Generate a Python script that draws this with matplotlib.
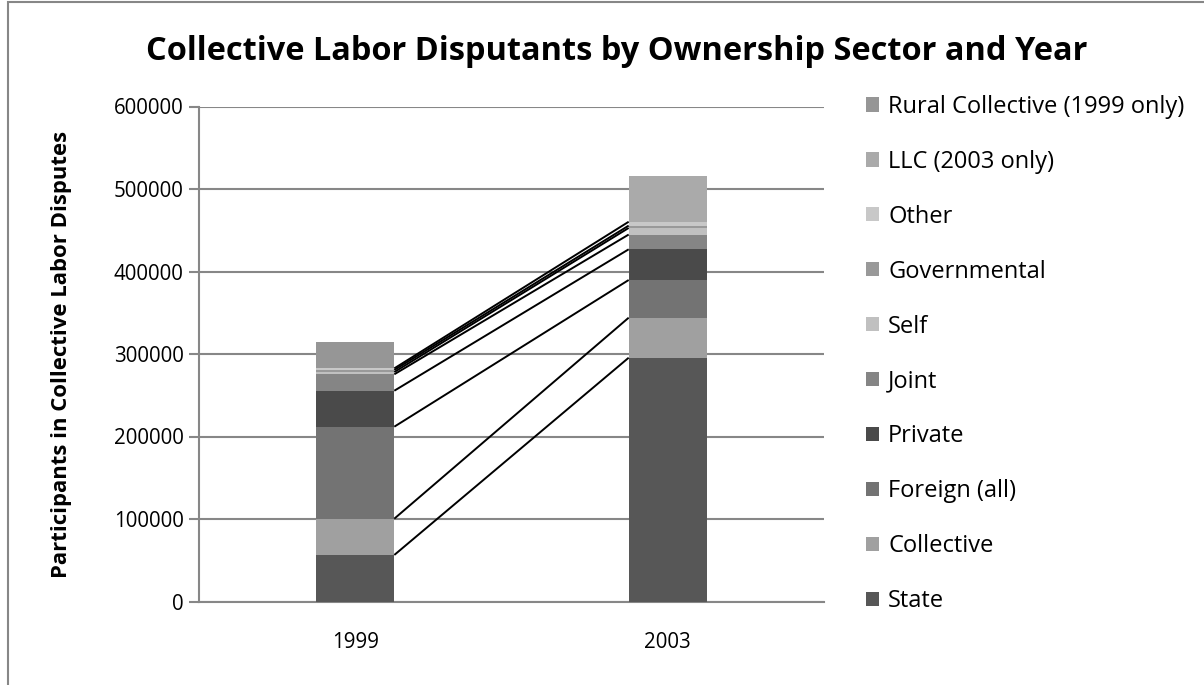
import matplotlib
matplotlib.use("Agg")
import matplotlib.pyplot as plt
import numpy as np
from matplotlib.patches import Rectangle, Patch

plt.rcParams['font.family'] = ['Open Sans', 'DejaVu Sans']

years = ['1999', '2003']
sectors = ['State', 'Collective', 'Foreign (all)', 'Private', 'Joint', 'Self',
           'Governmental', 'Other', 'LLC (2003 only)', 'Rural Collective (1999 only)']
vals_1999 = [56400, 44000, 111500, 43600, 19900, 2700, 2500, 2000, 0, 31600]
vals_2003 = [295500, 48500, 45700, 37200, 17900, 8000, 2800, 4700, 55400, 0]
colors = ['#575757', '#a0a0a0', '#737373', '#4a4a4a', '#858585', '#c0c0c0',
          '#999999', '#c8c8c8', '#aaaaaa', '#969696']
yticks = [0, 100000, 200000, 300000, 400000, 500000, 600000]

grid_col = '#878787'
bar_w = 0.25

fig = plt.figure(figsize=(12.04, 6.85), dpi=100)
ax = fig.add_axes([199 / 1204, 83.5 / 685, 625 / 1204, 495 / 685])

x = np.arange(len(years))
data = np.array([vals_1999, vals_2003], dtype=float)
bottoms = np.zeros(len(years))
tops = []
for i, name in enumerate(sectors):
    ax.bar(x, data[:, i], bar_w, bottom=bottoms, color=colors[i], label=name,
           linewidth=0, zorder=3)
    bottoms = bottoms + data[:, i]
    tops.append(bottoms.copy())

# series lines joining segment tops (not for the two one-year-only series)
for i in range(8):
    ax.plot([x[0] + bar_w / 2, x[1] - bar_w / 2], tops[i], color='black',
            lw=1.4, zorder=4, solid_capstyle='butt')

ax.set_xlim(-0.5, 1.5)
ax.set_ylim(0, 600000)
ax.set_yticks(yticks)
ax.set_yticklabels([str(v) for v in yticks], fontsize=14.8)
ax.set_xticks(x)
ax.set_xticklabels(years, fontsize=14.8)
ax.tick_params(axis='x', length=0, pad=22)
ax.tick_params(axis='y', length=7, width=1.5, color=grid_col, pad=4)
ax.grid(axis='y', color=grid_col, lw=1.5, zorder=1)
for s in ['top', 'right']:
    ax.spines[s].set_visible(False)
for s in ['left', 'bottom']:
    ax.spines[s].set_color(grid_col)
    ax.spines[s].set_linewidth(1.5)
    ax.spines[s].set_zorder(2)

ax.set_ylabel('Participants in Collective Labor Disputes', fontsize=15.9,
              fontweight='bold', labelpad=30)

fig.text(617 / 1204, 1 - 52 / 685, 'Collective Labor Disputants by Ownership Sector and Year',
         ha='center', va='center', fontsize=23.4, fontweight='bold')

handles = [Patch(facecolor=c, edgecolor='none') for c in colors][::-1]
fig.legend(handles, sectors[::-1], loc='center left',
           bbox_to_anchor=(854 / 1204, 1 - 354 / 685), frameon=False,
           fontsize=17, handlelength=0.55, handleheight=0.55,
           handletextpad=0.4, labelspacing=1.31, borderpad=0)

# outer chart border
fig.patches.append(Rectangle((8 / 1204, -0.2), 1.2, 1.2 - 1.5 / 685,
                             transform=fig.transFigure, fill=False,
                             edgecolor=grid_col, lw=1.5))

fig.savefig('out.png', dpi=100)
